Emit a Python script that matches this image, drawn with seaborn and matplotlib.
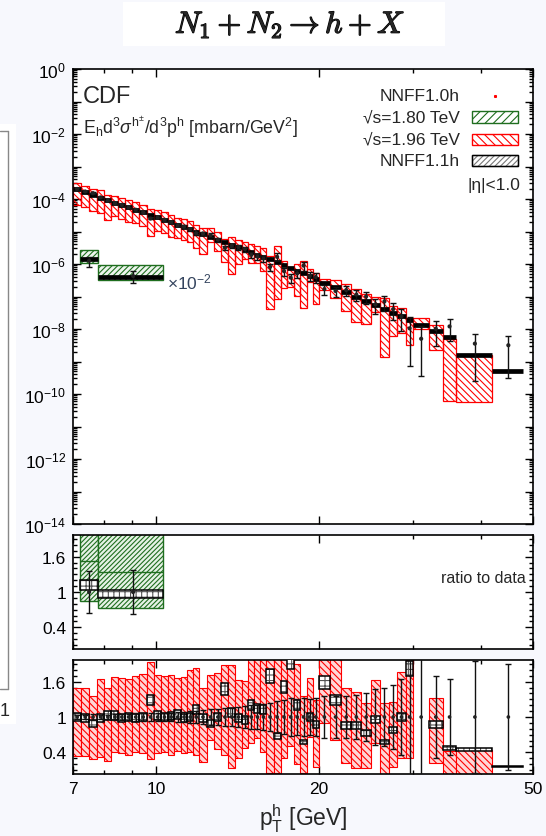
import numpy as np
import pandas as pd
import matplotlib
matplotlib.use("Agg")
import matplotlib.pyplot as plt
import matplotlib.patheffects as pe
import seaborn as sns
from matplotlib.patches import Rectangle
from matplotlib.lines import Line2D
from matplotlib.ticker import FixedLocator, FuncFormatter, LogLocator, NullFormatter, FixedFormatter, MultipleLocator

# ---- CDF sqrt(s)=1.96 TeV, |eta|<1.0 ----
pt_edges_196 = [7.0, 7.25, 7.5, 7.75, 8.0, 8.25, 8.5, 8.75, 9.0, 9.3, 9.6, 9.9, 10.2, 10.5, 10.8,
                11.1, 11.4, 11.7, 12.0, 12.4, 12.8, 13.2, 13.6, 14.0, 14.4, 14.8, 15.2, 15.6, 16.0,
                16.5, 17.0, 17.5, 18.0, 18.5, 19.0, 19.5, 20.0, 21.0, 22.0, 23.0, 24.0, 25.0, 26.0,
                27.0, 28.0, 29.0, 30.0, 32.0, 34.0, 36.0, 42.0, 48.0]
data_196 = [2.04e-4, 1.70e-4, 1.51e-4, 1.12e-4, 8.91e-5, 7.41e-5, 6.61e-5, 5.50e-5, 4.68e-5, 3.89e-5,
            2.51e-5, 2.69e-5, 2.29e-5, 1.91e-5, 1.55e-5, 1.41e-5, 1.17e-5, 8.91e-6, 8.70e-6, 7.76e-6,
            5.62e-6, 3.16e-6, 3.63e-6, 3.31e-6, 2.88e-6, 1.91e-6, 1.70e-6, 1.48e-6, 8.13e-7, 1.66e-6,
            6.03e-7, 3.80e-7, 5.13e-7, 8.91e-7, 4.27e-7, 3.98e-7, 1.70e-7, 1.48e-7, 1.58e-7, 1.15e-7,
            1.00e-7, 5.75e-8, 7.08e-8, 4.07e-8, 2.45e-8, 1.05e-8, 5.01e-9, 1.02e-8, 1.20e-8, 3.55e-9,
            3.16e-9]
data_196_err = [0.04, 0.04, 0.05, 0.04, 0.04, 0.05, 0.05, 0.05, 0.06, 0.06,
                0.06, 0.06, 0.07, 0.07, 0.08, 0.09, 0.10, 0.11, 0.12, 0.13,
                0.14, 0.15, 0.16, 0.17, 0.18, 0.20, 0.21, 0.22, 0.24, 0.27,
                0.29, 0.33, 0.30, 0.32, 0.30, 0.33, 0.35, 0.36, 0.36, 0.38,
                0.40, 0.48, 0.50, 0.55, 0.65, 1.20, 1.50, 0.70, 0.65, 0.95,
                0.90]
nnff11_196 = [2.04e-4, 1.66e-4, 1.35e-4, 1.10e-4, 9.12e-5, 7.59e-5, 6.46e-5, 5.50e-5, 4.57e-5, 3.89e-5,
              3.24e-5, 2.75e-5, 2.29e-5, 1.95e-5, 1.62e-5, 1.38e-5, 1.17e-5, 1.00e-5, 8.51e-6, 6.92e-6,
              5.62e-6, 4.68e-6, 3.89e-6, 3.24e-6, 2.75e-6, 2.29e-6, 1.95e-6, 1.66e-6, 1.38e-6, 1.12e-6,
              9.12e-7, 7.41e-7, 6.17e-7, 5.13e-7, 4.27e-7, 3.47e-7, 2.69e-7, 1.91e-7, 1.35e-7, 9.77e-8,
              7.24e-8, 5.50e-8, 4.07e-8, 3.16e-8, 2.45e-8, 1.91e-8, 1.35e-8, 8.91e-9, 5.62e-9, 1.58e-9,
              5.01e-10]
# NNFF1.0h band, as ratio to data
nnff10_196_lo = [0.33, 0.33, 0.28, 0.32, 0.25, 0.40, 0.38, 0.35, 0.40, 0.38,
                 0.28, 0.38, 0.40, 0.35, 0.42, 0.38, 0.40, 0.36, 0.24, 0.61,
                 0.45, 0.36, 0.14, 0.30, 0.48, 0.55, 0.64, 0.40, 0.05, 0.05,
                 0.30, 0.50, 0.20, 0.05, 0.66, 0.15, 0.90, 0.61, 0.22, 0.14,
                 0.14, 0.56, 0.02, 0.15, 0.30, 0.30, 2.05, 0.22, 0.005, 0.016,
                 np.nan]
nnff10_196_hi = [1.49, 1.50, 1.35, 1.64, 1.49, 1.68, 1.66, 1.64, 1.70, 1.74,
                 1.93, 1.72, 1.70, 1.72, 1.66, 1.68, 1.80, 1.83, 1.49, 1.71,
                 1.75, 1.88, 1.88, 1.63, 1.62, 2.10, 2.10, 2.10, 2.10, 2.10,
                 2.10, 2.10, 1.90, 1.35, 1.66, 1.29, 2.10, 2.10, 1.49, 1.43,
                 1.23, 1.63, 1.23, 1.26, 1.76, 2.10, 4.50, 1.32, 0.42, 0.44,
                 np.nan]

# ---- CDF sqrt(s)=1.80 TeV (drawn x 10^-2 in the top panel) ----
pt_edges_180 = [7.2, 7.8, 10.3]
data_180 = [1.26e-4, 4.27e-5]
data_180_err = [0.35, 0.38]
nnff11_180 = [1.41e-4, 4.10e-5]
nnff10_180_lo = [0.85, 0.73]
nnff10_180_mid = [1.53, 1.34]
nnff10_180_hi = [2.20, 2.20]
scale_180 = 1e-2

nnff11_unc = 0.07  # half-width of the NNFF1.1h band in the ratio panels


def make_table(edges, data, err, theory, lo, hi):
    df = pd.DataFrame({"left": edges[:-1], "right": edges[1:], "data": data, "err": err,
                       "theory": theory, "lo": lo, "hi": hi})
    df["center"] = 0.5 * (df["left"] + df["right"])
    df["ratio"] = df["theory"] / df["data"]
    return df


df196 = make_table(pt_edges_196, data_196, data_196_err, nnff11_196, nnff10_196_lo, nnff10_196_hi)
df180 = make_table(pt_edges_180, data_180, data_180_err, nnff11_180, nnff10_180_lo, nnff10_180_hi)
df180["mid"] = nnff10_180_mid

sns.set_theme(style="ticks")
plt.rcParams["font.family"] = ["Liberation Sans", "DejaVu Sans"]
plt.rcParams["mathtext.fontset"] = "custom"
plt.rcParams["mathtext.rm"] = "Liberation Sans"
plt.rcParams["mathtext.it"] = "Liberation Sans:italic"
plt.rcParams["mathtext.sf"] = "Liberation Sans"
plt.rcParams["hatch.linewidth"] = 0.8

RED = "#ff0000"
GREEN = "#1f6e1f"
W, H = 546, 837

fig = plt.figure(figsize=(W / 100, H / 100), dpi=100)
fig.patch.set_facecolor("#f7f8fd")


def px_axes(x0, y0, x1, y1):
    return fig.add_axes([x0 / W, 1 - y1 / H, (x1 - x0) / W, (y1 - y0) / H])


ax = px_axes(73, 70, 533, 525)
axr1 = px_axes(73, 536, 533, 650)
axr2 = px_axes(73, 661, 533, 775)


def boxes(a, df, lo, hi, **kw):
    a.bar(df["left"], hi - lo, width=df["right"] - df["left"], bottom=lo, align="edge", **kw)


def errbars(a, x, y, lo, hi):
    a.errorbar(x, y, yerr=[lo, hi], fmt="none", ecolor="#111111", elinewidth=1.0,
               capsize=2.3, capthick=1.0, zorder=6)


def nnff11_boxes(a, df):
    lo = df["ratio"] * (1 - nnff11_unc)
    hi = df["ratio"] * (1 + nnff11_unc)
    boxes(a, df, lo, hi, facecolor="white", edgecolor="#555555", hatch="+++", linewidth=0, zorder=4)
    boxes(a, df, lo, hi, facecolor="none", edgecolor="black", linewidth=1.1, zorder=5)


# ---------------- main panel ----------------
ok = df196.dropna(subset=["lo"])
boxes(ax, ok, ok["data"] * ok["lo"], ok["data"] * ok["hi"], facecolor="none",
      edgecolor=RED, hatch="\\\\\\\\\\", linewidth=0.9, zorder=2)
ax.hlines(df196["theory"], df196["left"], df196["right"], color="black", lw=3.4, zorder=4)
d_lo = np.minimum(df196["data"] * df196["err"], df196["data"] * 0.93)
errbars(ax, df196["center"], df196["data"], d_lo, df196["data"] * df196["err"])
sns.scatterplot(x=df196["center"], y=df196["data"], ax=ax, color="#222222", s=9,
                edgecolor="none", zorder=7, legend=False)

s180 = df180["data"] * scale_180
boxes(ax, df180, s180 * df180["lo"], s180 * df180["hi"], facecolor="#eef6ee",
      edgecolor=GREEN, hatch="//////", linewidth=1.0, zorder=2)
ax.hlines(df180["theory"] * scale_180, df180["left"], df180["right"], color="black", lw=3.4, zorder=4)
errbars(ax, df180["center"], s180, s180 * df180["err"], s180 * df180["err"])
sns.scatterplot(x=df180["center"], y=s180, ax=ax, color="#222222", s=9,
                edgecolor="none", zorder=7, legend=False)

ax.set_yscale("log")
ax.set_ylim(1e-14, 1)
ax.yaxis.set_major_locator(FixedLocator([10.0 ** k for k in range(-14, 1)]))
ax.yaxis.set_major_formatter(FuncFormatter(
    lambda v, pos: (r"$10^{%d}$" % round(np.log10(v))) if round(np.log10(v)) % 2 == 0 else ""))
ax.yaxis.set_minor_locator(LogLocator(base=10, subs=np.arange(2, 10), numticks=200))
ax.yaxis.set_minor_formatter(NullFormatter())

ax.text(0.022, 0.941, "CDF", transform=ax.transAxes, fontsize=17, va="center", ha="left")
ax.text(0.022, 0.873, r"E$_\mathrm{h}$d$^3\sigma^{\mathrm{h}^{\pm}}$/d$^3$p$^\mathrm{h}$ [mbarn/GeV$^2$]",
        transform=ax.transAxes, fontsize=12.8, va="center", ha="left")
ax.text(0.204, 0.532, r"$\times$10$^{-2}$", transform=ax.transAxes, fontsize=12.5,
        color="#34445e", va="center", ha="left")

# legend, drawn by hand
leg_y = [0.9407, 0.8945, 0.846, 0.798]
leg_txt = ["NNFF1.0h", "\u221as=1.80 TeV", "\u221as=1.96 TeV", "NNFF1.1h"]
for yy, tt in zip(leg_y, leg_txt):
    ax.text(0.841, yy, tt, transform=ax.transAxes, fontsize=12.5, ha="right", va="center")
ax.plot([0.917], [leg_y[0]], marker="s", ms=1.2, color=RED, transform=ax.transAxes)
sw = dict(width=0.10, height=0.0242, transform=ax.transAxes, linewidth=1.0)
ax.add_patch(Rectangle((0.867, leg_y[1] - 0.0121), facecolor="none", edgecolor=GREEN, hatch="////", **sw))
ax.add_patch(Rectangle((0.867, leg_y[2] - 0.0121), facecolor="none", edgecolor=RED, hatch="\\\\\\\\", **sw))
ax.add_patch(Rectangle((0.867, leg_y[3] - 0.0121), facecolor="none", edgecolor="#777777", hatch="//////", **sw))
ax.add_patch(Rectangle((0.867, leg_y[3] - 0.0121), facecolor="none", edgecolor="black", **sw))
ax.text(0.972, 0.747, "|\u03b7|<1.0", transform=ax.transAxes, fontsize=12.5, ha="right", va="center")

# ---------------- ratio panel, 1.80 TeV ----------------
boxes(axr1, df180, df180["lo"], df180["hi"], facecolor="#e6f2e6", edgecolor=GREEN,
      hatch="///////", linewidth=1.0, zorder=2)
axr1.hlines(df180["mid"], df180["left"], df180["right"], color=GREEN, lw=1.0, zorder=3)
nnff11_boxes(axr1, df180)
errbars(axr1, df180["center"], np.ones(len(df180)), df180["err"], df180["err"])
sns.scatterplot(x=df180["center"], y=np.ones(len(df180)), ax=axr1, color="#222222", s=9,
                edgecolor="none", zorder=7, legend=False)
axr1.text(0.985, 0.63, "ratio to data", transform=axr1.transAxes, fontsize=11.5, ha="right", va="center")

# ---------------- ratio panel, 1.96 TeV ----------------
boxes(axr2, ok, ok["lo"], ok["hi"], facecolor="#ffd6d6", edgecolor=RED,
      hatch="\\\\\\\\\\", linewidth=0.8, zorder=2)
nnff11_boxes(axr2, df196)
errbars(axr2, df196["center"], np.ones(len(df196)), df196["err"], df196["err"])
sns.scatterplot(x=df196["center"], y=np.ones(len(df196)), ax=axr2, color="#222222", s=7,
                edgecolor="none", zorder=7, legend=False)

for a in (axr1, axr2):
    a.set_ylim(0.03, 1.97)
    a.yaxis.set_major_locator(FixedLocator([0.4, 1.0, 1.6]))
    a.yaxis.set_major_formatter(FixedFormatter(["0.4", "1", "1.6"]))
    a.yaxis.set_minor_locator(MultipleLocator(0.1))

for a in (ax, axr1, axr2):
    a.set_xscale("log")
    a.set_xlim(7, 50)
    a.xaxis.set_major_locator(FixedLocator([7, 10, 20, 50]))
    a.xaxis.set_major_formatter(FixedFormatter(["7", "10", "20", "50"]))
    a.xaxis.set_minor_locator(FixedLocator([8, 9, 30, 40]))
    a.xaxis.set_minor_formatter(NullFormatter())
    a.set_facecolor("white")
    a.tick_params(which="both", direction="in", top=True, right=True, width=1.0,
                  labelsize=12.5, colors="black")
    a.tick_params(which="major", length=6)
    a.tick_params(which="minor", length=3)
    a.tick_params(axis="y", pad=5)
    a.tick_params(axis="x", pad=5)
    for sp in a.spines.values():
        sp.set_linewidth(1.2)
        sp.set_color("black")
    a.set_xlabel("")
    a.set_ylabel("")
    if a is not axr2:
        a.tick_params(labelbottom=False)

fig.text(303 / W, 1 - 819 / H, r"p$_\mathrm{T}^\mathrm{h}$ [GeV]", fontsize=16.5, ha="center", va="center")

# title box
fig.add_artist(Rectangle((123 / W, 1 - 47 / H), 322 / W, 44 / H, transform=fig.transFigure,
                         facecolor="white", edgecolor="none"))
fig.text(290 / W, 1 - 25 / H, r"$N_1 + N_2 \rightarrow h + X$", math_fontfamily="cm",
         fontsize=22, ha="center", va="center",
         path_effects=[pe.withStroke(linewidth=0.9, foreground="black")])

# edge of the neighbouring figure on the left
fig.add_artist(Rectangle((0, 1 - 725 / H), 16 / W, 600 / H, transform=fig.transFigure,
                         facecolor="white", edgecolor="none"))
fig.add_artist(Line2D([8 / W, 8 / W], [1 - 132 / H, 1 - 690 / H], transform=fig.transFigure,
                      color="#888888", lw=1.0))
fig.add_artist(Line2D([0, 8 / W], [1 - 132 / H, 1 - 132 / H], transform=fig.transFigure,
                      color="#888888", lw=1.0))
fig.add_artist(Line2D([0, 8 / W], [1 - 690 / H, 1 - 690 / H], transform=fig.transFigure,
                      color="#888888", lw=1.0))
fig.text(5 / W, 1 - 712 / H, "1", fontsize=13, ha="center", va="center")

fig.savefig("out.png", dpi=100, facecolor=fig.get_facecolor())
